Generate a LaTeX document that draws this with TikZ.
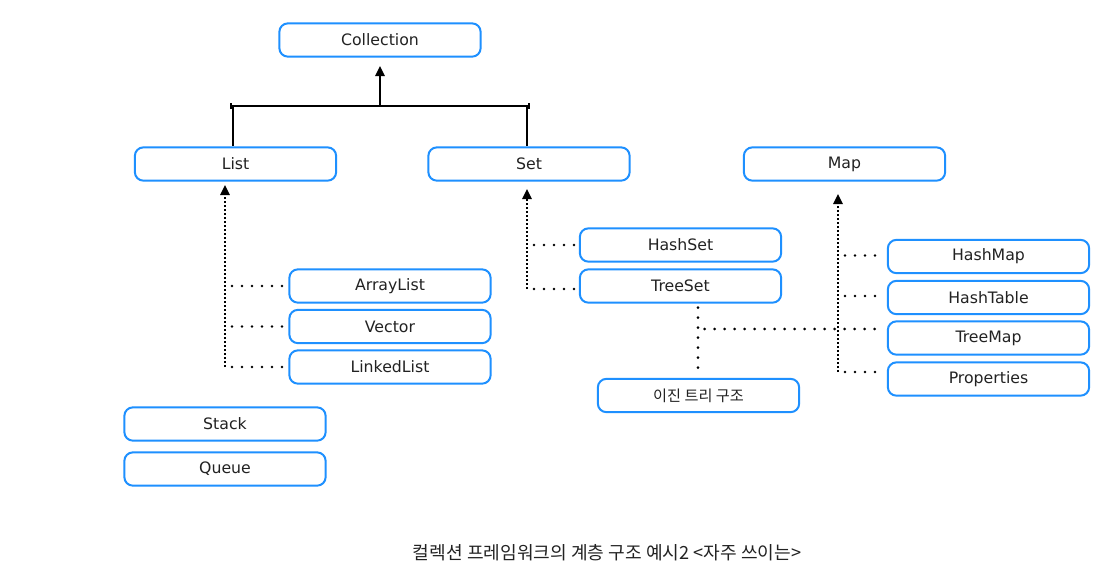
\documentclass[tikz,border=0pt]{standalone}
\usepackage{fontspec}
\setmainfont{DejaVu Sans}
\newfontfamily\krfont{Noto Sans CJK KR}
\usetikzlibrary{arrows.meta}
\definecolor{boxblue}{RGB}{30,144,255}
\definecolor{txt}{RGB}{34,34,34}
\begin{document}
\begin{tikzpicture}[x=0.75pt,y=-0.75pt,
  box/.style={draw=boxblue,line width=1.5pt,rounded corners=6.5pt,minimum width=151pt,minimum height=25pt,inner sep=0pt,text=txt,font=\fontsize{11.8}{13}\selectfont},
  tip/.style={-{Triangle[width=7pt,length=7.5pt]}},
  solidline/.style={line width=1.5pt,black},
  finedots/.style={line width=1.6pt,black,dash pattern=on 1.5pt off 1.5pt},
  widedots/.style={line width=2.2pt,black,line cap=round,dash pattern=on 0pt off 7.5pt}]
\useasboundingbox (0,0) rectangle (1107,587);
\fill[white] (0,0) rectangle (1107,587);

% boxes
\node[box] (Collection) at (380,40) {Collection};
\node[box] (List) at (235.5,164) {List};
\node[box] (Set) at (529,164) {Set};
\node[box] (Map) at (844.5,164) {Map};
\node[box] (HashSet) at (680.5,245) {HashSet};
\node[box] (TreeSet) at (680.5,286) {TreeSet};
\node[box] (ArrayList) at (390,286) {ArrayList};
\node[box] (Vector) at (390,326.5) {Vector};
\node[box] (LinkedList) at (390,367) {LinkedList};
\node[box] (Stack) at (225,424) {Stack};
\node[box] (Queue) at (225,469) {Queue};
\node[box,font=\krfont\fontsize{11.4}{12}\selectfont] (BinTree) at (698.5,395.5) {이진 트리 구조};
\node[box] (HashMap) at (988.5,256.5) {HashMap};
\node[box] (HashTable) at (988.5,297.5) {HashTable};
\node[box] (TreeMap) at (988.5,338) {TreeMap};
\node[box] (Properties) at (988.5,379) {Properties};

% Collection hierarchy (solid)
\coordinate (barL) at (231,106);
\coordinate (barR) at (529,106);
\coordinate (barM) at (380,106);
\coordinate (colTip) at (380,66);
\coordinate (jL) at (233,106);
\coordinate (jS) at (527,106);
\draw[solidline] (barL) -- (barR);
\draw[line width=1pt] (231,103) -- (231,109);
\draw[line width=1pt] (529,103) -- (529,109);
\draw[solidline,tip] (barM) -- (colTip);
\draw[solidline] (jL) -- (jL |- List.north);
\draw[solidline] (jS) -- (jS |- Set.north);

% List implementations
\coordinate (lBot) at (225,367);
\coordinate (lTop) at (225,185);
\draw[finedots,tip] (lBot) -- (lTop);
\draw[widedots] (232,286) -- ([xshift=-2pt]ArrayList.west);
\draw[widedots] (232,326.5) -- ([xshift=-2pt]Vector.west);
\draw[widedots] (232,367) -- ([xshift=-2pt]LinkedList.west);

% Set implementations
\coordinate (sBot) at (527,289);
\coordinate (sTop) at (527,189);
\draw[finedots,tip] (sBot) -- (sTop);
\draw[widedots] (534,245) -- ([xshift=-2pt]HashSet.west);
\draw[widedots] (534,289) -- ([xshift=-2pt]HashSet.west |- sBot);

% Map implementations
\coordinate (mBot) at (838,372);
\coordinate (mTop) at (838,194);
\draw[finedots,tip] (mBot) -- (mTop);
\draw[widedots] (845,255.5) -- ([xshift=-2pt]HashMap.west |- 0,255.5);
\draw[widedots] (845,296) -- ([xshift=-2pt]HashTable.west |- 0,296);
\draw[widedots] (845,372) -- ([xshift=-2pt]Properties.west |- mBot);

% TreeSet / TreeMap link
\coordinate (tJ) at (698,329);
\draw[widedots] ([yshift=-3pt]TreeSet.south -| tJ) -- ([yshift=4pt]BinTree.north -| tJ);
\draw[widedots] ([xshift=5pt]tJ) -- ([xshift=-2pt]TreeMap.west |- tJ);

% caption
\node[text=txt,font=\krfont\fontsize{13.6}{15}\selectfont] (caption) at (607,553) {컬렉션 프레임워크의 계층 구조 예시2 <자주 쓰이는>};
\end{tikzpicture}
\end{document}
